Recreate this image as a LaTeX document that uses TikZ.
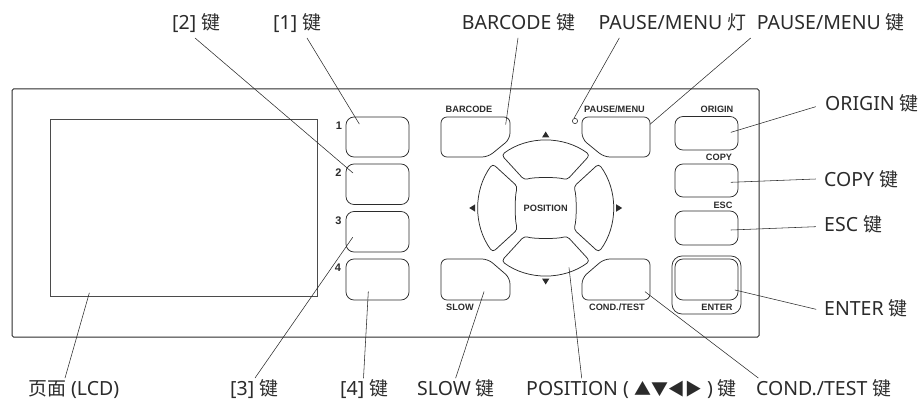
\documentclass[tikz,border=0pt]{standalone}
\usepackage{fontspec}
\setmainfont{Noto Sans}
\newfontfamily\cjk{Noto Sans CJK SC}[Scale=0.97]
\newfontfamily\panelfont{Liberation Sans}[BoldFont={Liberation Sans Bold}]
\newcommand{\jian}{{\cjk 键}}
\definecolor{ink}{HTML}{2B2B2B}

\tikzset{
	callout/.style={anchor=base west, inner sep=0pt, text=ink, font=\fontsize{19.5}{21}\selectfont},
	keytag/.style={inner sep=0pt, text=ink, font=\fontsize{9.2}{10}\panelfont\bfseries},
	numtag/.style={keytag, font=\fontsize{11}{12}\panelfont\bfseries},
	leader/.style={ink, line width=0.55pt},
	keybox/.style={ink, line width=0.75pt, rounded corners=8pt},
	chamfer/.style={ink, line width=0.75pt, rounded corners=6pt},
}

\begin{document}
\begin{tikzpicture}[x=1pt, y=-1pt, line cap=round]
	\useasboundingbox (0,0) rectangle (919,401);

	% ---- pannello e display ----
	\draw[ink, line width=1pt, rounded corners=1.5pt] (12,89) rectangle (759,337);
	\draw[ink!85, line width=0.9pt] (50,119.5) rectangle (317,296);

	% ---- tasti numerici ----
	\foreach \ya/\yb in {117/157, 164/204.5, 211.5/252, 259/300}
	\draw[keybox] (346,\ya) rectangle (409,\yb);
	\node[numtag] (num1) at (339,125.5) {1};
	\node[numtag] (num2) at (338.5,173) {2};
	\node[numtag] (num3) at (338.5,221) {3};
	\node[numtag] (num4) at (338,268) {4};

	% ---- tasti smussati ----
	\draw[chamfer] (441,117) -- (510,117) -- (510,139) -- (488,157) -- (441,157) -- cycle;
	\draw[chamfer] (650,117) -- (582,117) -- (582,139) -- (604,157) -- (650,157) -- cycle;
	\draw[chamfer] (441,300) -- (510,300) -- (510,278) -- (488,259) -- (441,259) -- cycle;
	\draw[chamfer] (650,300) -- (582,300) -- (582,278) -- (604,259) -- (650,259) -- cycle;
	\node[keytag] (barcodetag) at (469,109) {BARCODE};
	\node[keytag] (pausetag) at (614.5,109.5) {PAUSE/MENU};
	\node[keytag] (slowtag) at (460,307) {SLOW};
	\node[keytag] (condtag) at (617,307) {COND./TEST};

	% ---- spia ----
	\draw[ink, line width=0.6pt] (575,121) circle (2.6);

	% ---- croce POSITION ----
	\coordinate (pad) at (545.7,208);
	\foreach \r in {0,90,180,270}{
			\draw[ink, line width=0.75pt, rounded corners=3.5pt, rotate around={\r:(pad)}]
			(501.5,155) .. controls (527.8,135.6) and (563.6,135.6) .. (589.9,155)
			-- (567,180) .. controls (558,177) and (533.4,177) .. (524.4,180) -- cycle;
			\fill[ink, rotate around={\r:(pad)}] (542,137.5) -- (549.4,137.5) -- (545.7,131.5) -- cycle;
		}
	\node[keytag] (postag) at (pad) {POSITION};

	% ---- tasti a destra ----
	\foreach \ya/\yb in {116.5/150, 164/197, 211/245, 259/300}
	\draw[keybox] (675,\ya) rectangle (738,\yb);
	\draw[keybox, rounded corners=10pt] (672,256) rectangle (741,314);
	\node[keytag] (origintag) at (717,109) {ORIGIN};
	\node[keytag] (copytag) at (719,157) {COPY};
	\node[keytag] (esctag) at (723,205) {ESC};
	\node[keytag] (entertag) at (717,307) {ENTER};

	% ---- testi esterni ----
	\node[callout] (lblone) at (273,29.3) {[1] \jian};
	\node[callout] (lbltwo) at (172,29.3) {[2] \jian};
	\node[callout] (lblbarcode) at (461.7,29.3) {BARCODE \jian};
	\node[callout] (lbllamp) at (598.3,29.3) {PAUSE/MENU {\cjk 灯}};
	\node[callout] (lblpause) at (756.7,29.3) {PAUSE/MENU \jian};
	\node[callout] (lblorigin) at (825,111) {ORIGIN \jian};
	\node[callout] (lblcopy) at (824,186.7) {COPY \jian};
	\node[callout] (lblesc) at (824,231.7) {ESC \jian};
	\node[callout] (lblenter) at (824,315) {ENTER \jian};
	\node[callout] (lbllcd) at (28,395.5) {{\cjk 页面} (LCD)};
	\node[callout] (lblthree) at (230,395.5) {[3] \jian};
	\node[callout] (lblfour) at (340,395.5) {[4] \jian};
	\node[callout] (lblslow) at (417,395.5) {SLOW \jian};
	\node[callout] (lblpos) at (526,395.5) {POSITION ( {\cjk\fontsize{17.5}{20}\selectfont ▲▼◀▶} ) \jian};
	\node[callout] (lblcond) at (756,395.5) {COND./TEST \jian};

	% ---- linee di richiamo ----
	\foreach \n/\xa/\ya/\xb/\yb in {
			one/307/38/359.3/124, two/195/38/353/173, barcode/518/38/505.7/124.3,
			lamp/619.3/38/574/118.3, pause/750.7/38/650/124.3, origin/815.7/106.7/731/132.3,
			copy/815.7/179/731/182.3, esc/815.7/226.7/731/230, enter/816/309.3/735/290,
			lcd/65/378/89.3/293, three/255/378/352.7/237.3, four/363.5/378/368.3/291.7,
			slow/455.7/378/484/291.7, pos/581.7/378/569/267.7, cond/758.3/378/645/291.7}{
			\coordinate (from\n) at (\xa,\ya);
			\coordinate (to\n) at (\xb,\yb);
			\draw[leader] (from\n) -- (to\n);
		}

\end{tikzpicture}
\end{document}
